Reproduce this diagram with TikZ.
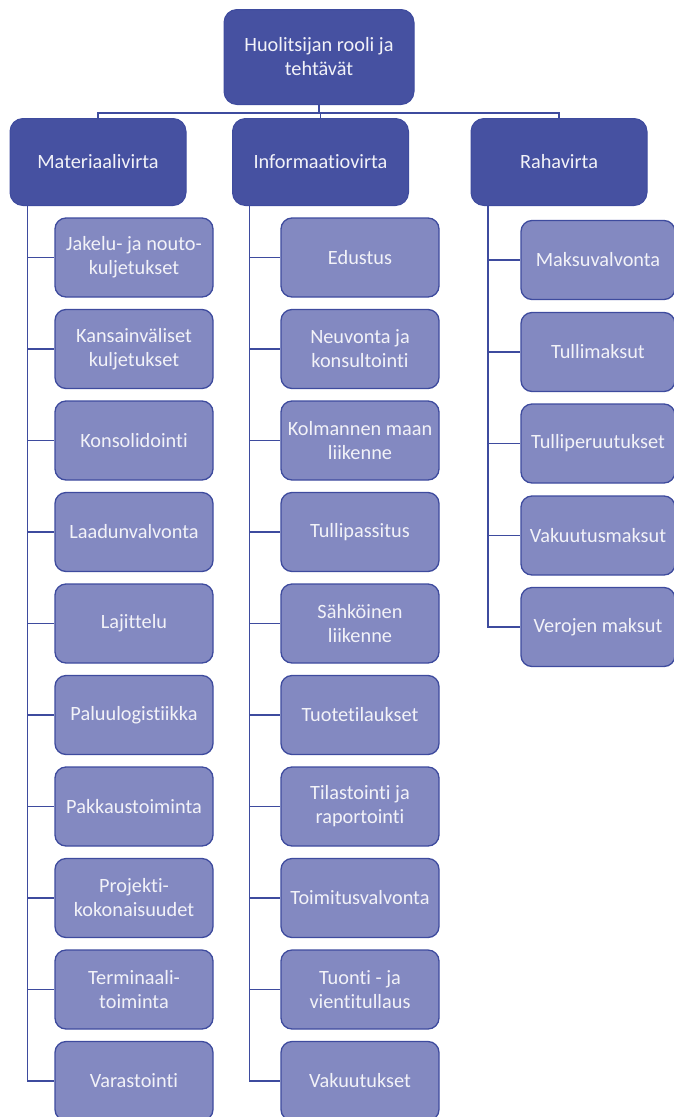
\documentclass[tikz,border=0pt]{standalone}
\usepackage{fontspec}
\setmainfont{Carlito}[Ligatures={NoCommon}]
\usepackage{tikz}
\usetikzlibrary{positioning}

\definecolor{darkbox}{HTML}{4651A1}
\definecolor{lightbox}{HTML}{8389C1}
\definecolor{boxline}{HTML}{3E4B9E}
\definecolor{textcol}{HTML}{F2F2F8}

\begin{document}
\begin{tikzpicture}[x=1pt, y=-1pt,
		topbox/.style={rectangle, rounded corners=13pt, draw=boxline, line width=1pt, fill=darkbox, text=textcol, align=center, inner sep=0pt, font=\fontsize{20.3}{24}\selectfont},
		rootbox/.style={topbox, minimum width=190pt, minimum height=95pt},
		mainbox/.style={topbox, minimum width=176pt, minimum height=87pt},
		subbox/.style={topbox, rounded corners=11pt, fill=lightbox, line width=1.3pt, minimum width=158pt, minimum height=79pt},
		link/.style={draw=boxline, line width=1.5pt}]
		\useasboundingbox (0,0) rectangle (674,1117);
		
		\node (rectroot) [rootbox] at (319,57) {Huolitsijan rooli ja\\tehtävät};
		
		\node (rectmat) [mainbox] at (98,162) {Materiaalivirta};
		\node (rectinfo) [mainbox] at (320.5,162) {Informaatiovirta};
		\node (rectraha) [mainbox] at (559,162) {Rahavirta};
		
		\node (rectjakelu) [subbox] at (134,257.5) {Jakelu- ja nouto-\\kuljetukset};
		\node (rectkansain) [subbox] at (134,349) {Kansainväliset\\kuljetukset};
		\node (rectkonso) [subbox] at (134,440.5) {Konsolidointi};
		\node (rectlaatu) [subbox] at (134,532) {Laadunvalvonta};
		\node (rectlajit) [subbox] at (134,623.5) {Lajittelu};
		\node (rectpaluu) [subbox] at (134,715) {Paluulogistiikka};
		\node (rectpakkaus) [subbox] at (134,806.5) {Pakkaustoiminta};
		\node (rectprojekti) [subbox] at (134,898) {Projekti-\\kokonaisuudet};
		\node (rectterm) [subbox] at (134,989.5) {Terminaali-\\toiminta};
		\node (rectvarasto) [subbox] at (134,1081) {Varastointi};
		
		\node (rectedustus) [subbox] at (360,257.5) {Edustus};
		\node (rectneuvonta) [subbox] at (360,349) {Neuvonta ja\\konsultointi};
		\node (rectkolmas) [subbox] at (360,440.5) {Kolmannen maan\\liikenne};
		\node (recttullipas) [subbox] at (360,532) {Tullipassitus};
		\node (rectsahko) [subbox] at (360,623.5) {Sähköinen\\liikenne};
		\node (recttilaus) [subbox] at (360,715) {Tuotetilaukset};
		\node (recttilasto) [subbox] at (360,806.5) {Tilastointi ja\\raportointi};
		\node (recttoimitus) [subbox] at (360,898) {Toimitusvalvonta};
		\node (recttuonti) [subbox] at (360,989.5) {Tuonti - ja\\vientitullaus};
		\node (rectvakuutus) [subbox] at (360,1081) {Vakuutukset};
		
		\node (rectmaksu) [subbox, minimum width=154pt] at (598,260) {Maksuvalvonta};
		\node (recttullimaksu) [subbox, minimum width=154pt] at (598,352) {Tullimaksut};
		\node (recttulliper) [subbox, minimum width=154pt] at (598,443.5) {Tulliperuutukset};
		\node (rectvakmaksu) [subbox, minimum width=154pt] at (598,535.5) {Vakuutusmaksut};
		\node (rectvero) [subbox, minimum width=154pt] at (598,627) {Verojen maksut};
		
		\draw [link] (rectroot.south) -- ++(0,8) -| (rectmat.north);
		\draw [link] (rectroot.south) -- ++(0,8) -| (rectinfo.north);
		\draw [link] (rectroot.south) -- ++(0,8) -| (rectraha.north);
		
		\draw [link] ([xshift=18pt]rectmat.south west) |- (rectjakelu.west);
		\draw [link] ([xshift=18pt]rectmat.south west) |- (rectkansain.west);
		\draw [link] ([xshift=18pt]rectmat.south west) |- (rectkonso.west);
		\draw [link] ([xshift=18pt]rectmat.south west) |- (rectlaatu.west);
		\draw [link] ([xshift=18pt]rectmat.south west) |- (rectlajit.west);
		\draw [link] ([xshift=18pt]rectmat.south west) |- (rectpaluu.west);
		\draw [link] ([xshift=18pt]rectmat.south west) |- (rectpakkaus.west);
		\draw [link] ([xshift=18pt]rectmat.south west) |- (rectprojekti.west);
		\draw [link] ([xshift=18pt]rectmat.south west) |- (rectterm.west);
		\draw [link] ([xshift=18pt]rectmat.south west) |- (rectvarasto.west);
		
		\draw [link] ([xshift=17.5pt]rectinfo.south west) |- (rectedustus.west);
		\draw [link] ([xshift=17.5pt]rectinfo.south west) |- (rectneuvonta.west);
		\draw [link] ([xshift=17.5pt]rectinfo.south west) |- (rectkolmas.west);
		\draw [link] ([xshift=17.5pt]rectinfo.south west) |- (recttullipas.west);
		\draw [link] ([xshift=17.5pt]rectinfo.south west) |- (rectsahko.west);
		\draw [link] ([xshift=17.5pt]rectinfo.south west) |- (recttilaus.west);
		\draw [link] ([xshift=17.5pt]rectinfo.south west) |- (recttilasto.west);
		\draw [link] ([xshift=17.5pt]rectinfo.south west) |- (recttoimitus.west);
		\draw [link] ([xshift=17.5pt]rectinfo.south west) |- (recttuonti.west);
		\draw [link] ([xshift=17.5pt]rectinfo.south west) |- (rectvakuutus.west);
		
		\draw [link] ([xshift=17.5pt]rectraha.south west) |- (rectmaksu.west);
		\draw [link] ([xshift=17.5pt]rectraha.south west) |- (recttullimaksu.west);
		\draw [link] ([xshift=17.5pt]rectraha.south west) |- (recttulliper.west);
		\draw [link] ([xshift=17.5pt]rectraha.south west) |- (rectvakmaksu.west);
		\draw [link] ([xshift=17.5pt]rectraha.south west) |- (rectvero.west);
		
		\end{tikzpicture}
\end{document}
